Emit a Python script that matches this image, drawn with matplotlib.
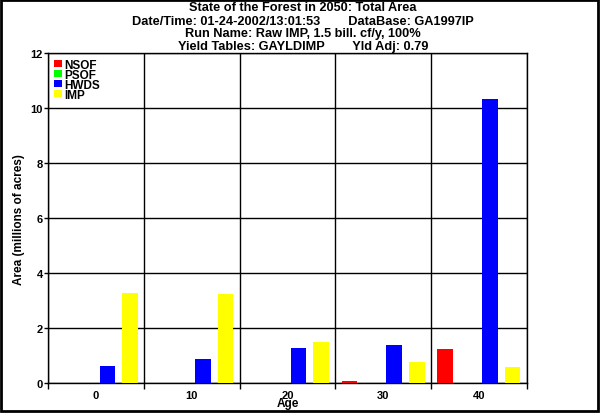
import numpy as np
import matplotlib
matplotlib.use("Agg")
import matplotlib.pyplot as plt
from matplotlib.patches import Patch, Rectangle

plt.rcParams['font.family'] = ['Liberation Sans', 'DejaVu Sans']
plt.rcParams['font.weight'] = 'bold'
plt.rcParams['axes.labelweight'] = 'bold'

ages = ['0', '10', '20', '30', '40']
series = ['NSOF', 'PSOF', 'HWDS', 'IMP']
colors = ['#ff0000', '#00ff00', '#0000ff', '#ffff00']
nsof = [0.0, 0.0, 0.0, 0.08, 1.24]
psof = [0.0, 0.0, 0.0, 0.0, 0.0]
hwds = [0.62, 0.88, 1.28, 1.39, 10.35]
imp = [3.29, 3.25, 1.5, 0.77, 0.58]
values = [nsof, psof, hwds, imp]

title_lines = ['State of the Forest in 2050: Total Area',
               'Date/Time: 01-24-2002/13:01:53        DataBase: GA1997IP',
               'Run Name: Raw IMP, 1.5 bill. cf/y, 100%',
               'Yield Tables: GAYLDIMP        Yld Adj: 0.79']

fig = plt.figure(figsize=(6, 4.14), dpi=100)
ax = fig.add_axes([0.0805, 0.0717, 0.797, 0.797])

x = np.arange(len(ages))
step = 0.235
w = 0.163
for i, (name, vals) in enumerate(zip(series, values)):
    ax.bar(x + (i - 1.5) * step, vals, width=w, color=colors[i], label=name, zorder=3)

ax.set_xlim(-0.5, 4.5)
ax.set_ylim(0, 12)
ax.set_yticks(np.arange(0, 13, 2))
ax.set_xticks(x)
ax.set_xticklabels(ages)
ax.set_xticks(np.arange(-0.5, 5, 1), minor=True)
ax.tick_params(axis='x', which='major', length=0, labelsize=8, pad=4.5)
ax.tick_params(axis='x', which='minor', length=4.5, width=1, color='black')
ax.tick_params(axis='y', length=3, width=1, labelsize=8, pad=1)
ax.grid(axis='y', which='major', color='black', lw=1, zorder=1)
ax.grid(axis='x', which='minor', color='black', lw=1, zorder=1)
for s in ax.spines.values():
    s.set_linewidth(1)
    s.set_color('black')

ax.set_xlabel('Age', fontsize=8.5, labelpad=-1.5)
ax.set_ylabel('Area (millions of acres)', fontsize=8.5, labelpad=4)

handles = [Patch(facecolor=c, edgecolor='none') for c in colors]
ax.legend(handles, series, loc='upper left', frameon=False, fontsize=8.5,
          handlelength=0.68, handleheight=0.6, handletextpad=0.25,
          labelspacing=-0.17, borderaxespad=0.2, borderpad=0.25)

ys = [0.981, 0.948, 0.917, 0.887]
for t, yy in zip(title_lines, ys):
    fig.text(0.505, yy, t, ha='center', va='center', fontsize=9.2)

fig.patches.append(Rectangle((0.002, 0.004), 0.995, 0.993, transform=fig.transFigure,
                             fill=False, lw=2, edgecolor='black'))

fig.savefig('out.png', dpi=100)
